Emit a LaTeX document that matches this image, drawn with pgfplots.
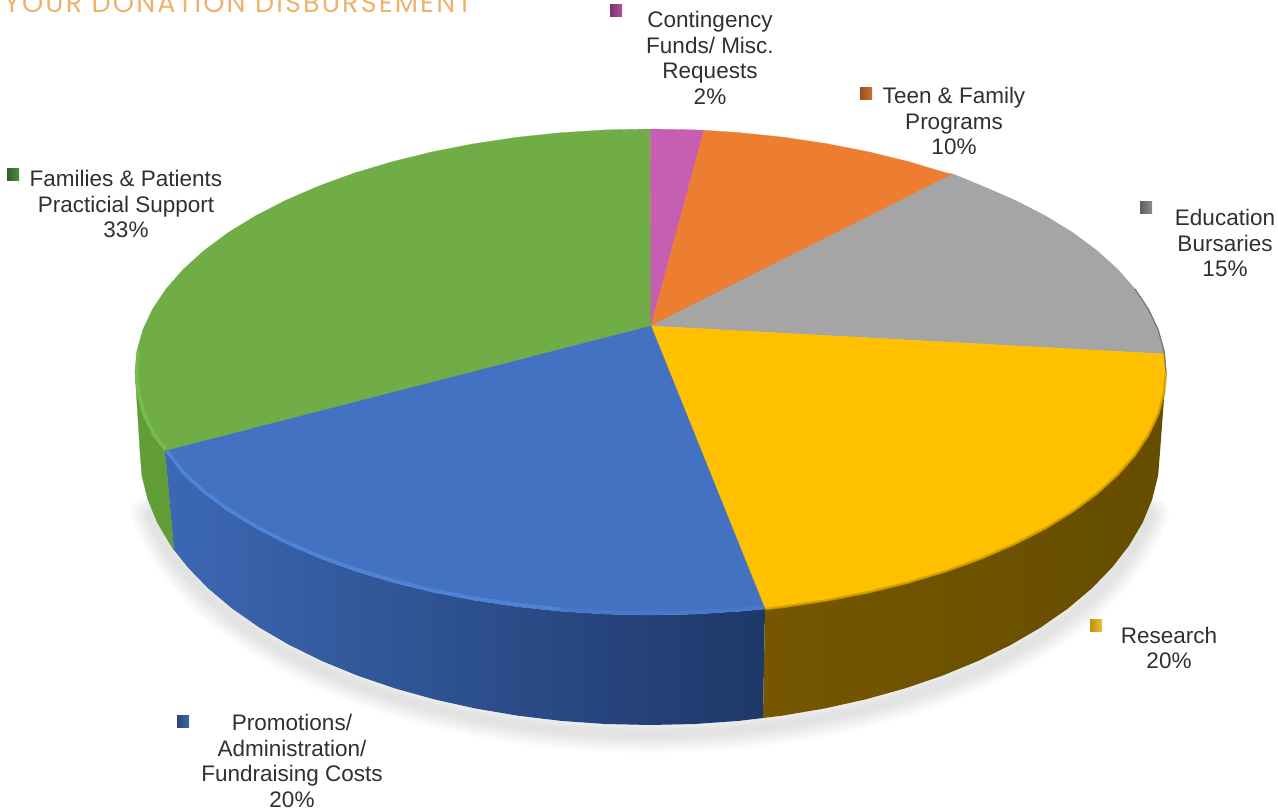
\documentclass[border=0pt]{standalone}
\usepackage{pgfplots}
\pgfplotsset{compat=1.18}
\usepackage{fontspec}
\setmainfont{Liberation Sans}
\newfontfamily\titlefont[LetterSpace=8]{Poppins}
\definecolor{cGreen}{RGB}{112,173,71}
\definecolor{cGreenSide}{RGB}{98,158,56}
\definecolor{cGreenLip}{RGB}{124,190,76}
\definecolor{cBlue}{RGB}{68,114,194}
\definecolor{cBlueLip}{RGB}{82,134,218}
\definecolor{cYellow}{RGB}{255,192,0}
\definecolor{cYellowLip}{RGB}{205,155,0}
\definecolor{cGray}{RGB}{165,165,165}
\definecolor{cOrange}{RGB}{237,125,49}
\definecolor{cPink}{RGB}{198,94,178}
\definecolor{cText}{RGB}{48,48,48}
\tikzset{lab/.style={font=\fontsize{22.5}{25.6}\selectfont,text=cText,align=center,inner sep=0pt}}
\begin{document}
\begin{tikzpicture}
\path[use as bounding box,clip] (0,0) rectangle (1278pt,810pt);
\begin{axis}[
  at={(0,0)},anchor=south west,
  scale only axis,width=1278pt,height=810pt,
  xmin=0,xmax=1278,ymin=0,ymax=810,y dir=reverse,
  hide axis,clip=false,
  every axis plot/.append style={mark=none},
]
% soft shadow below the disc
\pgfplotsinvokeforeach{38,33,28,23,18,13,8}{
\addplot[draw=black,draw opacity=0.014,line width=#1 pt,yshift=-9pt,line join=round,line cap=round] coordinates {
(150,505)(157.4,522.7)(170.8,545.4)(187.8,567.4)(208.3,588.5)(232.2,608.6)(259.3,627.5)(289.4,645)(322.2,661.1)(357.5,675.6)(395,688.4)(434.5,699.4)(475.6,708.5)(518,715.7)(561.5,720.9)(605.5,724)(650,725)(694.5,724)(738.5,720.9)(782,715.7)(824.4,708.5)(865.5,699.4)(905,688.4)(942.5,675.6)(977.8,661.1)(1010.6,645)(1040.7,627.5)(1067.8,608.6)(1091.7,588.5)(1112.2,567.4)(1129.2,545.4)(1142.6,522.7)(1150,505)};
}
% side walls
\addplot[fill=cGreenSide,draw=cGreenSide,line width=0.3pt] coordinates {
(135,372)(137,393.2)(142.8,414.2)(152.6,434.9)(165,451)(174,550)(170.8,545.4)(157.4,522.7)(147.8,499.4)(141.9,475.8)(140,452)} --cycle;
\addplot[draw=none,shade,left color={rgb,255:red,60;green,104;blue,180},middle color={rgb,255:red,50;green,88;blue,152},right color={rgb,255:red,30;green,56;blue,104}] coordinates {
(765,609)(740,611.3)(695.5,614.1)(650.5,615)(605.5,614.1)(561,611.3)(517.1,606.7)(474.2,600.3)(432.6,592.2)(392.7,582.4)(354.8,571.1)(319.1,558.1)(286,543.8)(255.6,528.2)(228.2,511.4)(204.1,493.5)(183.3,474.7)(165,451)(174,550)(187.8,567.4)(208.3,588.5)(232.2,608.6)(259.3,627.5)(289.4,645)(322.2,661.1)(357.5,675.6)(395,688.4)(434.5,699.4)(475.6,708.5)(518,715.7)(561.5,720.9)(605.5,724)(650,725)(694.5,724)(738.5,720.9)(763,718)} --cycle;
\addplot[draw=none,shade,left color={rgb,255:red,118;green,87;blue,0},middle color={rgb,255:red,101;green,77;blue,0},right color={rgb,255:red,101;green,77;blue,0}] coordinates {
(1166,372)(1164,393.2)(1158.2,414.2)(1148.4,434.9)(1134.9,455.1)(1117.7,474.7)(1096.9,493.5)(1072.8,511.4)(1045.4,528.2)(1015,543.8)(981.9,558.1)(946.2,571.1)(908.3,582.4)(868.4,592.2)(826.8,600.3)(783.9,606.7)(765,609)(763,718)(782,715.7)(824.4,708.5)(865.5,699.4)(905,688.4)(942.5,675.6)(977.8,661.1)(1010.6,645)(1040.7,627.5)(1067.8,608.6)(1091.7,588.5)(1112.2,567.4)(1129.2,545.4)(1142.6,522.7)(1152.2,499.4)(1158.1,475.8)(1160,452)} --cycle;
% top face: one wedge per share
\addplot[fill=cGreen,draw=cGreen,line width=0.3pt] coordinates {
(651,326)(165,451)(152.6,434.9)(142.8,414.2)(137,393.2)(135,372)(137,350.8)(142.8,329.8)(152.6,309.1)(166.1,288.9)(183.3,269.3)(204.1,250.5)(228.2,232.6)(255.6,215.8)(286,200.2)(319.1,185.9)(354.8,172.9)(392.7,161.6)(432.6,151.8)(474.2,143.7)(517.1,137.3)(561,132.7)(605.5,129.9)(650.5,129)} --cycle;
\addplot[fill=cPink,draw=cPink,line width=0.3pt] coordinates {
(651,326)(650.5,129)(695.5,129.9)(704,130.3)} --cycle;
\addplot[fill=cOrange,draw=cOrange,line width=0.3pt] coordinates {
(651,326)(704,130.3)(740,132.7)(783.9,137.3)(826.8,143.7)(868.4,151.8)(908.3,161.6)(946.2,172.9)(953,174)} --cycle;
\addplot[fill=cGray,draw=cGray,line width=0.3pt] coordinates {
(651,326)(953,174)(981.9,185.9)(1015,200.2)(1045.4,215.8)(1072.8,232.6)(1096.9,250.5)(1117.7,269.3)(1134.9,288.9)(1148.4,309.1)(1158.2,329.8)(1164,350.8)(1165,354)} --cycle;
\addplot[fill=cYellow,draw=cYellow,line width=0.3pt] coordinates {
(651,326)(1165,354)(1166,372)(1164,393.2)(1158.2,414.2)(1148.4,434.9)(1134.9,455.1)(1117.7,474.7)(1096.9,493.5)(1072.8,511.4)(1045.4,528.2)(1015,543.8)(981.9,558.1)(946.2,571.1)(908.3,582.4)(868.4,592.2)(826.8,600.3)(783.9,606.7)(765,609)} --cycle;
\addplot[fill=cBlue,draw=cBlue,line width=0.3pt] coordinates {
(651,326)(765,609)(740,611.3)(695.5,614.1)(650.5,615)(605.5,614.1)(561,611.3)(517.1,606.7)(474.2,600.3)(432.6,592.2)(392.7,582.4)(354.8,571.1)(319.1,558.1)(286,543.8)(255.6,528.2)(228.2,511.4)(204.1,493.5)(183.3,474.7)(165,451)} --cycle;
% bevel highlights along the rim
\addplot[draw=cBlueLip,line width=3.5pt,yshift=2pt,draw opacity=0.35] coordinates {
(764,609)(740,611.3)(695.5,614.1)(650.5,615)(605.5,614.1)(561,611.3)};
\addplot[draw=cBlueLip,line width=3.5pt,yshift=2pt,draw opacity=0.85] coordinates {
(561,611.3)(517.1,606.7)(474.2,600.3)(432.6,592.2)(392.7,582.4)(354.8,571.1)(319.1,558.1)(286,543.8)(255.6,528.2)(228.2,511.4)(204.1,493.5)(183.3,474.7)(167,453)};
\addplot[draw=cGreenLip,line width=3.5pt,xshift=1.5pt,draw opacity=0.9] coordinates {
(164,449)(152.6,434.9)(142.8,414.2)(137,393.2)(135,372)(137,350.8)};
\addplot[draw=cYellowLip,line width=2.5pt,draw opacity=0.8] coordinates {
(1166,372)(1164,393.2)(1158.2,414.2)(1148.4,434.9)(1134.9,455.1)(1117.7,474.7)(1096.9,493.5)(1072.8,511.4)(1045.4,528.2)(1015,543.8)(981.9,558.1)(946.2,571.1)(908.3,582.4)(868.4,592.2)(826.8,600.3)(783.9,606.7)(765,609)};
\addplot[draw={rgb,255:red,115;green,115;blue,122},line width=1.2pt] coordinates {
(1134.9,288.9)(1148.4,309.1)(1158.2,329.8)(1164,350.8)(1166,372)};
% key squares beside the labels
\addplot[draw=none,shade,left color={rgb,255:red,122;green,52;blue,112},right color={rgb,255:red,175;green,80;blue,155}] coordinates {(610,5)(622,5)(622,17)(610,17)} --cycle;
\addplot[draw=none,shade,left color={rgb,255:red,150;green,80;blue,36},right color={rgb,255:red,205;green,112;blue,50}] coordinates {(860,88)(872,88)(872,100)(860,100)} --cycle;
\addplot[draw=none,shade,left color={rgb,255:red,95;green,95;blue,95},right color={rgb,255:red,140;green,140;blue,140}] coordinates {(1140,202)(1152,202)(1152,214)(1140,214)} --cycle;
\addplot[draw=none,shade,left color={rgb,255:red,50;green,95;blue,42},right color={rgb,255:red,82;green,140;blue,66}] coordinates {(7,169)(19,169)(19,181)(7,181)} --cycle;
\addplot[draw=none,shade,left color={rgb,255:red,190;green,145;blue,20},right color={rgb,255:red,240;green,190;blue,50}] coordinates {(1090,619)(1102,619)(1102,631)(1090,631)} --cycle;
\addplot[draw=none,shade,left color={rgb,255:red,42;green,70;blue,125},right color={rgb,255:red,66;green,102;blue,170}] coordinates {(177,715)(189,715)(189,727)(177,727)} --cycle;
% labels
\node[lab] at (axis cs:710,58) {Contingency\\Funds/ Misc.\\Requests\\2\%};
\node[lab] at (axis cs:954,121) {Teen \& Family\\Programs\\10\%};
\node[lab] at (axis cs:1225,243) {Education\\Bursaries\\15\%};
\node[lab] at (axis cs:126,204) {Families \& Patients\\Practicial Support\\33\%};
\node[lab] at (axis cs:1169,648) {Research\\20\%};
\node[lab] at (axis cs:292,761) {Promotions/\\Administration/\\Fundraising Costs\\20\%};
\node[anchor=base west,inner sep=0pt,font=\titlefont\fontsize{27}{27}\selectfont,text={rgb,255:red,238;green,178;blue,110}] at (axis cs:4,13) {YOUR DONATION DISBURSEMENT};
\end{axis}
\end{tikzpicture}
\end{document}
